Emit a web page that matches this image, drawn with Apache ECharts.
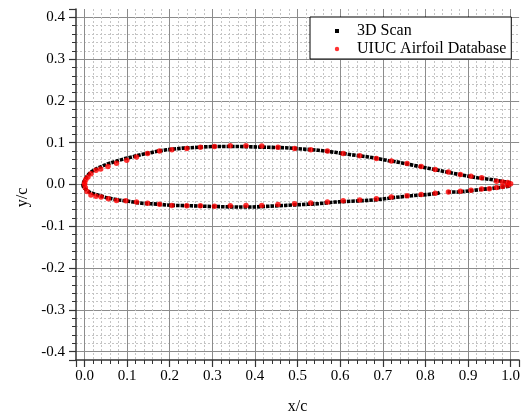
<!DOCTYPE html>
<html>
<head>
<meta charset="utf-8">
<script src="https://cdn.jsdelivr.net/npm/echarts@6/dist/echarts.min.js"></script>
<style>
  html, body { margin: 0; padding: 0; background: #fff; }
  #main { width: 523px; height: 420px; }
</style>
</head>
<body>
<div id="main"></div>
<script>
// 3D scan, upper surface (leading edge -> trailing edge)
const scanUpper = [
  [-0.004, 0.0], [-0.002, 0.006], [0.002, 0.013], [0.006, 0.020], [0.011, 0.026],
  [0.017, 0.031], [0.025, 0.036], [0.033, 0.040], [0.044, 0.045], [0.056, 0.050],
  [0.075, 0.056], [0.095, 0.062], [0.115, 0.067], [0.134, 0.072], [0.155, 0.076],
  [0.173, 0.080], [0.192, 0.083], [0.211, 0.085], [0.23, 0.087], [0.25, 0.088],
  [0.28, 0.090], [0.305, 0.091], [0.33, 0.091], [0.36, 0.091], [0.394, 0.090],
  [0.433, 0.089], [0.472, 0.088], [0.51, 0.085], [0.549, 0.082], [0.588, 0.077],
  [0.627, 0.071], [0.666, 0.066], [0.689, 0.062], [0.713, 0.057], [0.728, 0.055],
  [0.767, 0.047], [0.806, 0.039], [0.845, 0.031], [0.884, 0.023], [0.922, 0.016],
  [0.961, 0.011], [0.996, 0.006], [1.0, 0.004]
];
// 3D scan, lower surface (leading edge -> trailing edge), '-' marks the gap
const scanLower = [
  [-0.004, 0.0], [-0.003, -0.005], [0.0, -0.009], [0.002, -0.011], [0.007, -0.015],
  [0.013, -0.019], [0.024, -0.023], [0.037, -0.027], [0.05, -0.031], [0.064, -0.034],
  [0.08, -0.037], [0.095, -0.039], [0.115, -0.042], [0.134, -0.045], [0.155, -0.046],
  [0.173, -0.047], [0.192, -0.049], [0.211, -0.050], [0.25, -0.051], [0.28, -0.052],
  [0.316, -0.053], [0.355, -0.054], [0.394, -0.054], [0.433, -0.052], [0.472, -0.050],
  [0.51, -0.048], [0.549, -0.046], [0.588, -0.042], [0.627, -0.040], [0.666, -0.038],
  [0.689, -0.036], [0.713, -0.033], [0.728, -0.031], [0.767, -0.027], [0.806, -0.024],
  [0.829, -0.021], [0.835, -0.018], [0.843, '-'],
  [0.852, -0.018], [0.876, -0.018], [0.907, -0.015], [0.938, -0.011], [0.969, -0.008],
  [0.996, -0.004], [1.0, -0.002]
];
// UIUC database points
const uiucUpper = [
  [0.0, 0.0], [0.0005, 0.005], [0.003, 0.012], [0.008, 0.018], [0.015, 0.026],
  [0.027, 0.034], [0.038, 0.037], [0.055, 0.043], [0.075, 0.051], [0.099, 0.058],
  [0.122, 0.066], [0.148, 0.074], [0.176, 0.080], [0.205, 0.083], [0.24, 0.086],
  [0.272, 0.089], [0.305, 0.091], [0.342, 0.093], [0.379, 0.093], [0.416, 0.092],
  [0.454, 0.089], [0.493, 0.086], [0.531, 0.083], [0.57, 0.080], [0.607, 0.074],
  [0.646, 0.069], [0.685, 0.062], [0.72, 0.056], [0.757, 0.050], [0.79, 0.043],
  [0.823, 0.036], [0.854, 0.030], [0.882, 0.024], [0.907, 0.020], [0.932, 0.016],
  [0.967, 0.008], [0.981, 0.006], [0.993, 0.0045], [1.0, 0.002]
];
const uiucLower = [
  [0.002, -0.008], [0.006, -0.017], [0.015, -0.025], [0.027, -0.028], [0.039, -0.030],
  [0.056, -0.034], [0.075, -0.038], [0.097, -0.039], [0.122, -0.042], [0.148, -0.045],
  [0.176, -0.047], [0.205, -0.050], [0.24, -0.051], [0.272, -0.051], [0.305, -0.052],
  [0.342, -0.051], [0.379, -0.050], [0.416, -0.050], [0.454, -0.048], [0.493, -0.046],
  [0.531, -0.044], [0.57, -0.042], [0.607, -0.039], [0.646, -0.037], [0.685, -0.034],
  [0.72, -0.030], [0.757, -0.027], [0.79, -0.024], [0.823, -0.021], [0.854, -0.018],
  [0.882, -0.016], [0.907, -0.014], [0.932, -0.011], [0.95, -0.010], [0.967, -0.007],
  [0.981, -0.005], [0.993, -0.002]
];
const seriesNames = ['3D Scan', 'UIUC Airfoil Database'];

const font = "'Liberation Serif', 'Times New Roman', serif";
const chart = echarts.init(document.getElementById('main'));

// one outline: upper from TE to LE, then lower from LE to TE
const scanLine = scanUpper.slice().reverse().concat(scanLower.slice(1));
const uiucPoints = uiucUpper.concat(uiucLower);

function tenthLabel(lo, hi) {
  return function (v) {
    const k = Math.round(v * 10);
    if (Math.abs(v * 10 - k) > 1e-6 || v < lo - 1e-6 || v > hi + 1e-6) return '';
    return (k / 10).toFixed(1);
  };
}

const axisCommon = {
  type: 'value',
  axisLine: { show: true, onZero: false, lineStyle: { color: '#333', width: 1.5 } },
  axisTick: { show: true, inside: false, length: 7, lineStyle: { color: '#333', width: 1.2 } },
  minorTick: { show: true, splitNumber: 5, length: 4, lineStyle: { color: '#333', width: 1 } },
  splitLine: { show: true, showMinLine: false, showMaxLine: false, lineStyle: { color: '#8c8c8c', width: 1 } },
  minorSplitLine: { show: true, lineStyle: { color: '#c4c4c4', width: 1, type: [2, 2] } },
  nameTextStyle: { color: '#000', fontFamily: font, fontSize: 16 }
};

option = {
  animation: false,
  backgroundColor: '#fff',
  grid: { left: 76, right: 1, top: 9, bottom: 59 },
  legend: {
    left: 310,
    top: 17,
    orient: 'vertical',
    padding: [6, 5, 2, 12],
    itemWidth: 30,
    itemHeight: 14,
    itemGap: 2,
    backgroundColor: '#fff',
    borderColor: '#000',
    borderWidth: 1,
    borderRadius: 0,
    textStyle: { color: '#000', fontFamily: font, fontSize: 16, lineHeight: 16 },
    data: [
      { name: seriesNames[0], icon: 'path://M0,0M13,5h4v4h-4zM30,14' },
      { name: seriesNames[1], icon: 'path://M0,0M12.8,7a2.2,2.2 0 1,0 4.4,0a2.2,2.2 0 1,0 -4.4,0M30,14' }
    ]
  },
  xAxis: Object.assign({}, axisCommon, {
    min: -0.02,
    max: 1.02,
    splitNumber: 10,
    name: 'x/c',
    nameLocation: 'middle',
    nameGap: 39,
    axisLabel: { color: '#000', fontFamily: font, fontSize: 15, margin: 9, formatter: tenthLabel(0, 1) }
  }),
  yAxis: Object.assign({}, axisCommon, {
    min: -0.42,
    max: 0.42,
    splitNumber: 8,
    name: 'y/c',
    nameLocation: 'middle',
    nameGap: 44,
    nameTextStyle: Object.assign({}, axisCommon.nameTextStyle, { padding: [0, 26, 0, 0] }),
    axisLabel: { color: '#000', fontFamily: font, fontSize: 15, margin: 11, formatter: tenthLabel(-0.4, 0.4) }
  }),
  series: [
    {
      name: seriesNames[0],
      type: 'line',
      data: scanLine,
      color: '#000',
      showSymbol: false,
      connectNulls: false,
      lineStyle: { color: '#000', width: 3.6, type: [3.5, 1], cap: 'butt' },
      z: 2
    },
    {
      name: seriesNames[1],
      type: 'scatter',
      data: uiucPoints,
      color: '#ff0000',
      symbol: 'circle',
      symbolSize: 5.5,
      itemStyle: { color: '#ff0000' },
      z: 3
    }
  ]
};

chart.setOption(option);
</script>
</body>
</html>
